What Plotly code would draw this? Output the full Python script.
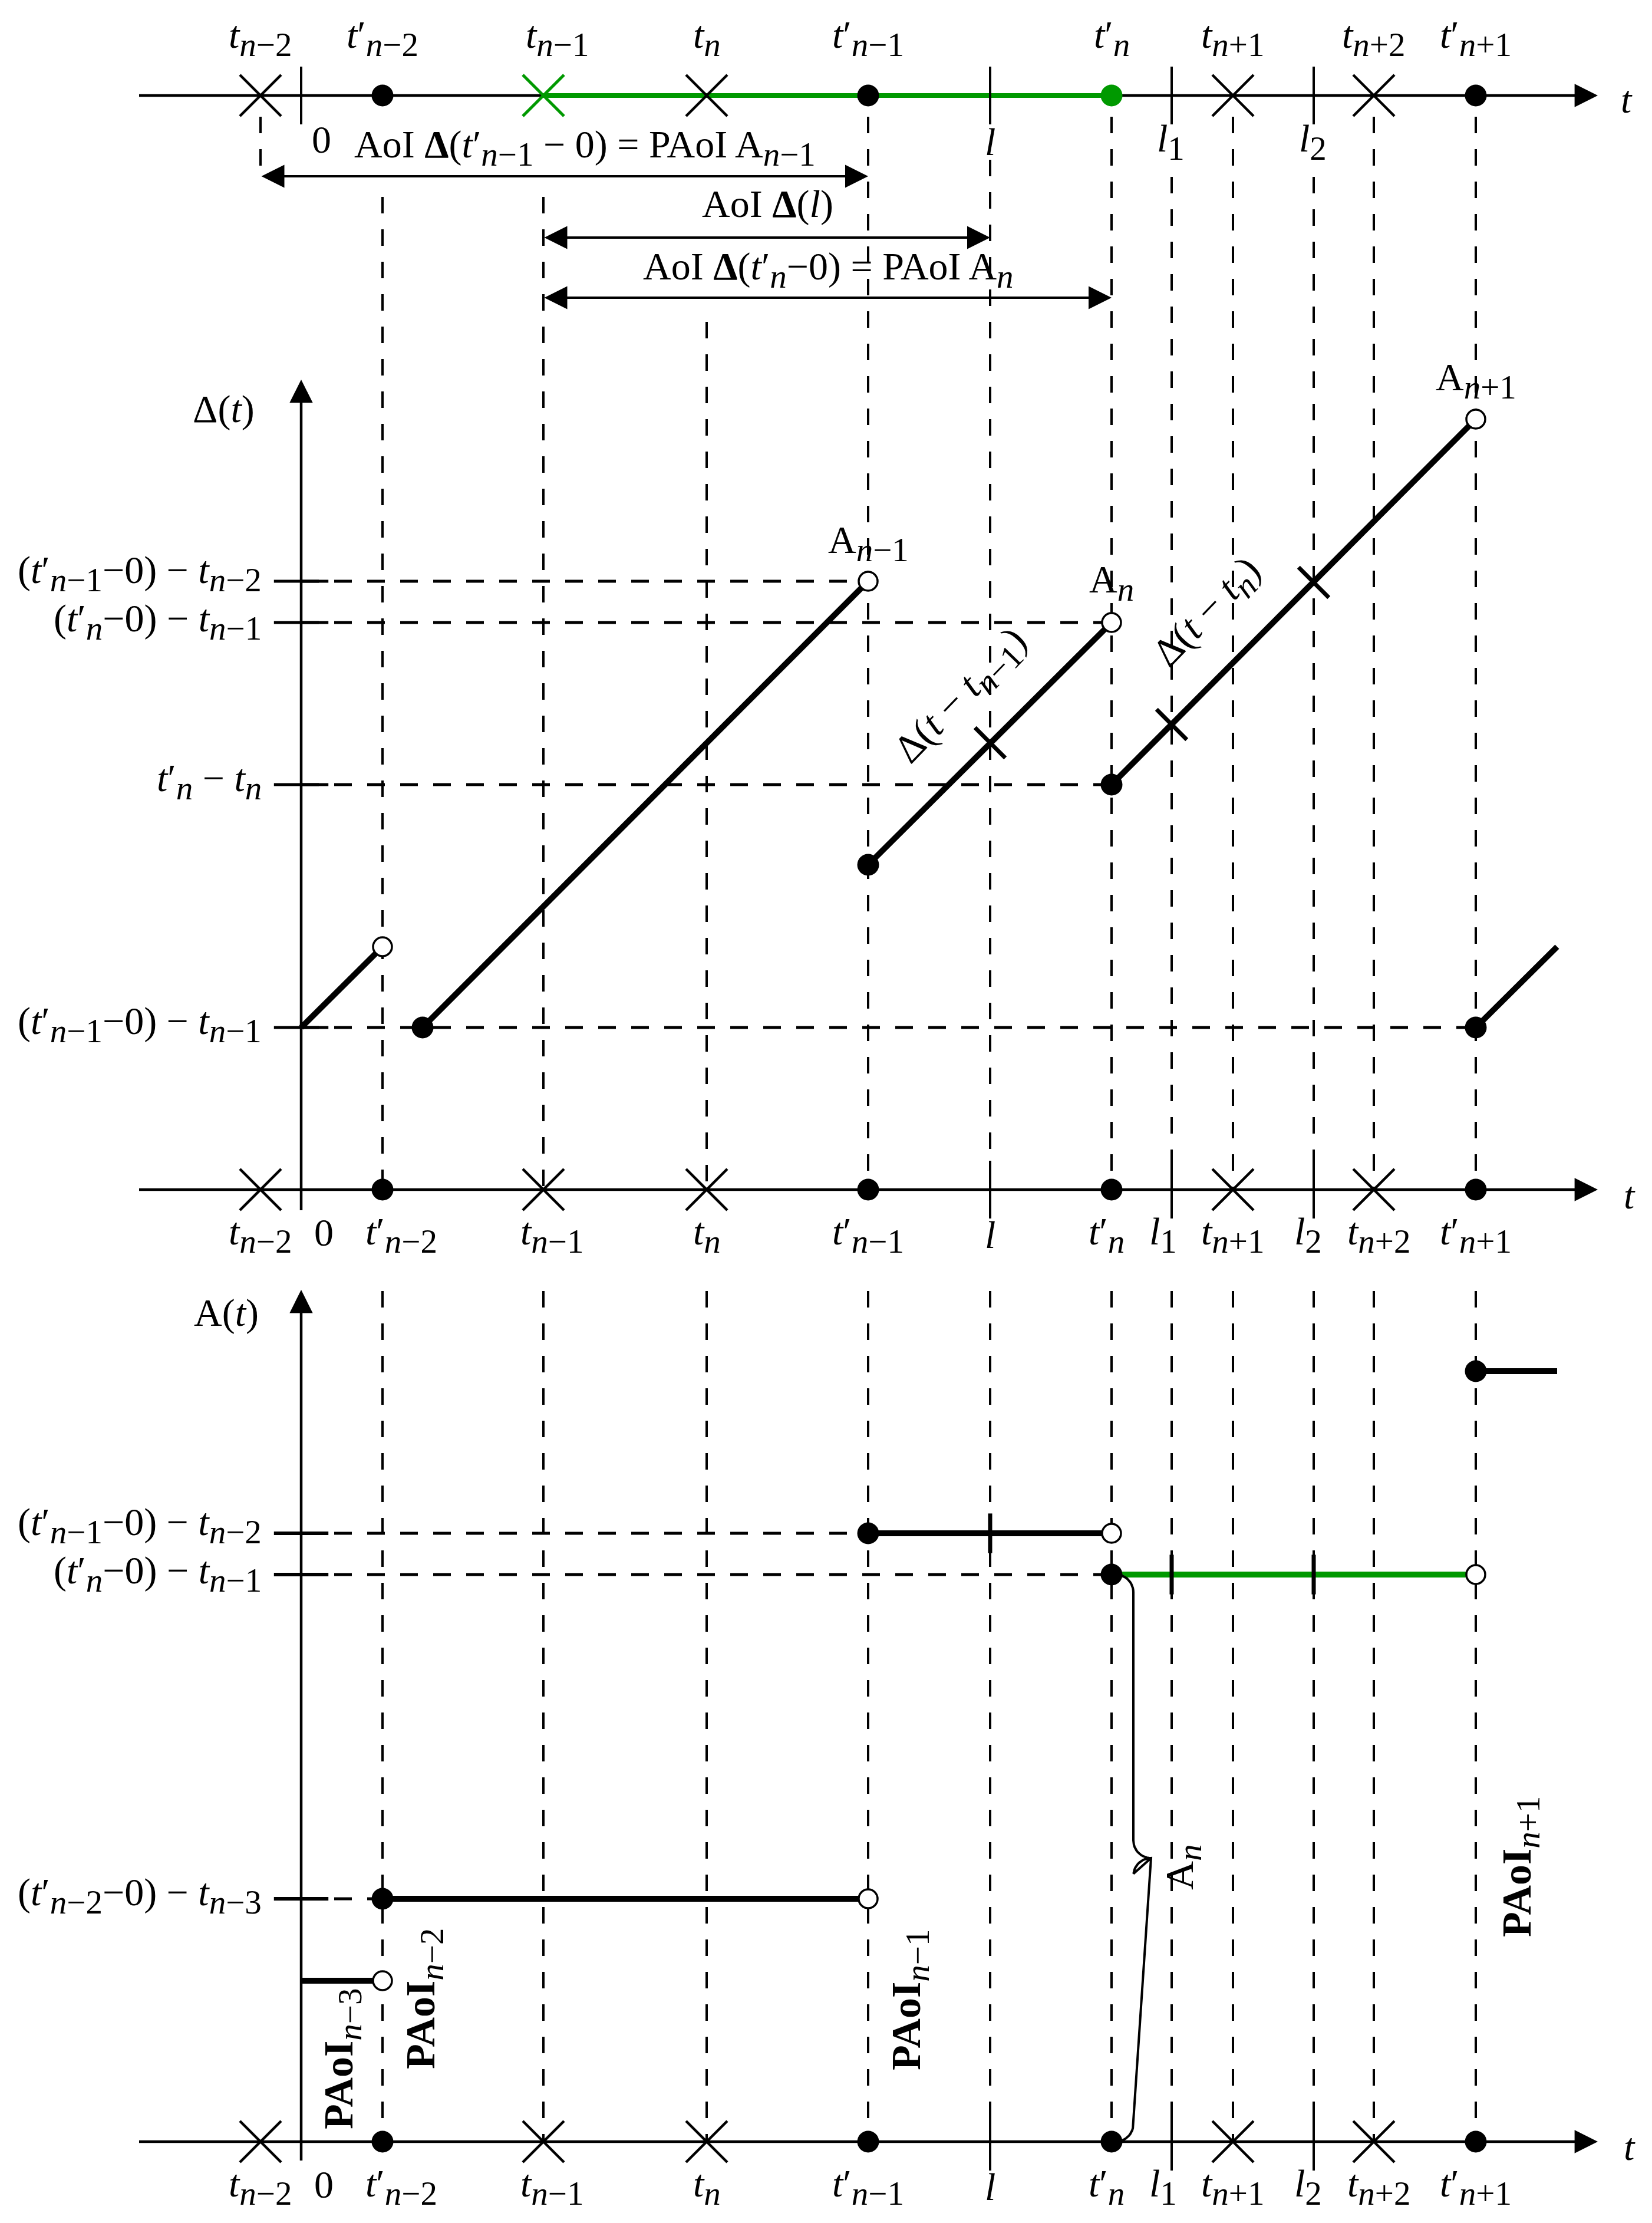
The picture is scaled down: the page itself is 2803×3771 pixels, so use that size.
import numpy as np
import plotly.graph_objects as go

# ---------------- data (diagram time units; value axes use the same unit) ----------------
# generation instants t_k (crosses) and reception instants t'_k (dots)
gen_subs = ["n−2", "n−1", "n", "n+1", "n+2"]
gen_times = [-6.9, 41.1, 68.8, 158.1, 182.0]
rcv_subs = ["n−2", "n−1", "n", "n+1"]
rcv_times = [13.8, 96.2, 137.5, 199.3]
# observation instants l, l1, l2
probe_subs = ["", "1", "2"]
probe_times = [116.9, 147.7, 171.8]

# AoI Δ(t): sawtooth pieces
aoi_t0 = [0.0, 20.6, 96.2, 137.5, 199.3]
aoi_t1 = [13.8, 96.2, 137.5, 199.3, 213.1]
aoi_v0 = [27.5, 27.5, 55.1, 68.7, 27.5]
aoi_v1 = [41.2, 103.2, 96.2, 130.7, 41.2]
# where l, l1, l2 cut the sawtooth
aoi_probe_v = [75.8, 78.9, 103.0]

# PAoI A(t): step pieces
paoi_t0 = [0.0, 13.8, 96.2, 137.5, 199.3]
paoi_t1 = [13.8, 96.2, 137.5, 199.3, 213.1]
paoi_v = [27.3, 41.2, 103.2, 96.2, 130.7]

# ---------------- page geometry ----------------
FONT = "Liberation Serif, Times New Roman, serif"
FS = 66
SUBFS = 57
GREEN = "#009900"
BODY = 8            # default html body margin
PAGE_W, PAGE_H = 2803, 3771
X_ZERO = 511        # page px of t = 0
UNIT = 10           # px per unit
TOP_Y = 162         # page px of the top time line
AOI_Y = 2018        # page px of Δ = 0
PAOI_Y = 3633       # page px of A = 0


def tx(px):
    return (px - X_ZERO) / UNIT


def sub(s):
    return f"<sub><span style='font-size:{SUBFS}px'>{s}</span></sub>"


def it_n(s):
    return s.replace("n", "<i>n</i>")


def t_lab(s):
    return "<i>t</i>" + sub(it_n(s))


def tp_lab(s):
    return "<i>t</i>′" + sub(it_n(s))


def l_lab(s):
    return "<i>l</i>" + (sub(s) if s else "")


def segs(x0s, x1s, y0s, y1s):
    xs, ys = [], []
    for a, b, c, d in zip(x0s, x1s, y0s, y1s):
        xs += [a, b, None]
        ys += [c, d, None]
    return xs, ys


fig = go.Figure()


def line(xs, ys, yaxis="y", color="black", width=4, dash=None):
    fig.add_trace(go.Scatter(x=xs, y=ys, yaxis=yaxis, mode="lines", hoverinfo="skip",
                             line=dict(color=color, width=width, dash=dash)))


def marks(xs, ys, yaxis="y", symbol="circle", size=36, color="black",
          lcolor="black", lwidth=0, angle=0):
    fig.add_trace(go.Scatter(x=xs, y=ys, yaxis=yaxis, mode="markers", hoverinfo="skip",
                             marker=dict(symbol=symbol, size=size, color=color, angle=angle,
                                         line=dict(color=lcolor, width=lwidth))))


def ann(text, x, y, yref="y", angle=0, xanchor="center", yanchor="middle",
        xshift=0, yshift=0, size=FS):
    fig.add_annotation(text=text, x=x, y=y, xref="x", yref=yref, showarrow=False,
                       font=dict(family=FONT, size=size, color="black"), textangle=angle,
                       xanchor=xanchor, yanchor=yanchor, xshift=xshift, yshift=yshift)


def arrow(x0, y0, x1, y1, yref="y", both=False, width=4, size=1.95):
    fig.add_annotation(x=x1, y=y1, ax=x0, ay=y0, xref="x", yref=yref, axref="x", ayref=yref,
                       text="", showarrow=True, arrowhead=2, arrowsize=size, arrowwidth=width,
                       arrowcolor="black", arrowside="end+start" if both else "end",
                       startarrowhead=2, startarrowsize=size, standoff=0, startstandoff=0)


DASH_V = "28px,27px"
DASH_H = "30px,26px"

# ---------------- vertical guide lines ----------------
top_start = {("g", 0): 198, ("g", 1): 334, ("g", 2): 546, ("g", 3): 198, ("g", 4): 198,
             ("r", 0): 334, ("r", 1): 198, ("r", 2): 198, ("r", 3): 198,
             ("p", 0): 271, ("p", 1): 300, ("p", 2): 300}
events = [("g", i, t) for i, t in enumerate(gen_times)] + \
         [("r", i, t) for i, t in enumerate(rcv_times)] + \
         [("p", i, t) for i, t in enumerate(probe_times)]
vx, vy = [], []
for kind, i, t in events:
    y0 = top_start[(kind, i)]
    y1 = 299 if (kind, i) == ("g", 0) else AOI_Y
    vx += [t, t, None]
    vy += [y0, y1, None]
    if (kind, i) != ("g", 0):
        vx += [t, t, None]
        vy += [2190, PAOI_Y, None]
line(vx, vy, width=4, dash=DASH_V)

# ---------------- horizontal guide lines ----------------
aoi_levels = [aoi_v1[1], aoi_v1[2], aoi_v0[3], aoi_v0[0]]
aoi_level_end = [aoi_t1[1], aoi_t1[2], aoi_t0[3], aoi_t0[4]]
aoi_level_text = [
    "(" + tp_lab("n−1") + "−0) − " + t_lab("n−2"),
    "(" + tp_lab("n") + "−0) − " + t_lab("n−1"),
    tp_lab("n") + " − " + t_lab("n"),
    "(" + tp_lab("n−1") + "−0) − " + t_lab("n−1"),
]
aoi_level_shift = [14, 2, 6, 6]
hx, hy = segs([0] * 4, aoi_level_end, aoi_levels, aoi_levels)
line(hx, hy, yaxis="y2", width=5, dash=DASH_H)

paoi_levels = [paoi_v[2], paoi_v[3], paoi_v[1]]
paoi_level_end = [paoi_t1[2], paoi_t1[3], paoi_t0[1]]
paoi_level_text = [
    "(" + tp_lab("n−1") + "−0) − " + t_lab("n−2"),
    "(" + tp_lab("n") + "−0) − " + t_lab("n−1"),
    "(" + tp_lab("n−2") + "−0) − " + t_lab("n−3"),
]
paoi_level_shift = [14, 2, 6]
hx, hy = segs([0] * 3, paoi_level_end, paoi_levels, paoi_levels)
line(hx, hy, yaxis="y3", width=5, dash=DASH_H)

# y-axis tick stubs
marks([0] * 4, aoi_levels, yaxis="y2", symbol="line-ew", size=66, lwidth=5)
marks([0] * 3, paoi_levels, yaxis="y3", symbol="line-ew", size=66, lwidth=6)

# ---------------- time axes ----------------
AX_START, AX_END = tx(236), tx(2711)


def time_axis(yaxis, y, top=False):
    line([AX_START, AX_END - 2], [y, y], yaxis=yaxis, width=4.5)
    if top:
        line([gen_times[1], rcv_times[2]], [y, y], yaxis=yaxis, color=GREEN, width=8)
    arrow(AX_END - 3, y, AX_END, y, yref=yaxis, width=4.5, size=1.75)
    gcol = [GREEN if (top and i == 1) else "black" for i in range(len(gen_times))]
    rcol = [GREEN if (top and i == 2) else "black" for i in range(len(rcv_times))]
    ticks = probe_times + ([0.0] if top else [])
    marks(ticks, [y] * len(ticks), yaxis=yaxis, symbol="line-ns", size=70, lwidth=4)
    for t, c in zip(gen_times, gcol):
        marks([t], [y], yaxis=yaxis, symbol="x-thin", size=70, lcolor=c,
              lwidth=5 if c == GREEN else 4.5)
    marks(rcv_times, [y] * len(rcv_times), yaxis=yaxis, size=37, color=rcol)


time_axis("y", TOP_Y, top=True)
time_axis("y2", 0)
time_axis("y3", 0)

# value axes (vertical, with arrow)
line([0, 0], [-3.5, 135], yaxis="y2", width=4.5)
arrow(0, 134, 0, 137.4, yref="y2", width=4.5, size=1.75)
line([0, 0], [-3.2, 142], yaxis="y3", width=4.5)
arrow(0, 141, 0, 144.5, yref="y3", width=4.5, size=1.75)

# ---------------- Δ(t) sawtooth ----------------
sx, sy = segs(aoi_t0, aoi_t1, aoi_v0, aoi_v1)
line(sx, sy, yaxis="y2", width=10)
marks(probe_times, aoi_probe_v, yaxis="y2", symbol="line-ns", size=52, lwidth=7, angle=-45)
marks(aoi_t0[1:], aoi_v0[1:], yaxis="y2", size=37)
marks(aoi_t1[:-1], aoi_v1[:-1], yaxis="y2", size=32, color="white", lwidth=3.5)

# ---------------- A(t) steps ----------------
for i in range(len(paoi_v)):
    line([paoi_t0[i], paoi_t1[i]], [paoi_v[i], paoi_v[i]], yaxis="y3",
         color=GREEN if i == 3 else "black", width=10)
probe_level = [paoi_v[2], paoi_v[3], paoi_v[3]]
marks(probe_times, probe_level, yaxis="y3", symbol="line-ns", size=48, lwidth=7)
marks(paoi_t0[1:], paoi_v[1:], yaxis="y3", size=37)
marks(paoi_t1[:-1], paoi_v[:-1], yaxis="y3", size=32, color="white", lwidth=3.5)

# curly brace spanning A_n at t'_n
bx0 = rcv_times[2] + 3.7
btop, bbot = paoi_v[3], 0.0
bmid = (btop + bbot) / 2
r = 3.0
th = np.linspace(0, np.pi / 2, 14)
brace_x = list(bx0 - r + r * np.sin(th)) + \
    list(bx0 + r - r * np.cos(th)) + list(bx0 + r - r * np.sin(th[::-1]))[1:] + \
    list(bx0 - r + r * np.cos(th))
brace_y = list(btop - r + r * np.cos(th)) + \
    list(bmid + r - r * np.sin(th)) + list(bmid - r + r * np.cos(th[::-1]))[1:] + \
    list(bbot + r - r * np.sin(th))
line(brace_x, brace_y, yaxis="y3", width=4)

# ---------------- top panel: labels and interval arrows ----------------
top_shift_g = [0, 24, 0, 0, 0]
for s, t, dx in zip(gen_subs, gen_times, top_shift_g):
    ann(t_lab(s), t, 64, xshift=dx)
for s, t in zip(rcv_subs, rcv_times):
    ann(tp_lab(s), t, 64)
ann("0", 0, 236, xshift=34)
for s, t in zip(probe_subs, probe_times):
    ann(l_lab(s), t, 240, xshift=0 if not s else -2)
ann("<i>t</i>", tx(2760), 168)

arrow(gen_times[0], 299, rcv_times[1], 299, both=True)
arrow(gen_times[1], 403, probe_times[0], 403, both=True)
arrow(gen_times[1], 505, rcv_times[2], 505, both=True)
ann("AoI <b>Δ</b>(" + tp_lab("n−1") + " − 0) = PAoI A" + sub(it_n("n−1")), tx(992), 250)
ann("AoI <b>Δ</b>(<i>l</i>)", tx(1302), 346)
ann("AoI <b>Δ</b>(" + tp_lab("n") + "−0) = PAoI A" + sub(it_n("n")), tx(1405), 457)

# ---------------- Δ panel labels ----------------
ann("Δ(<i>t</i>)", tx(379), 694)
for v, txt, dy in zip(aoi_levels, aoi_level_text, aoi_level_shift):
    ann(txt, tx(446), v, yref="y2", xanchor="right", yshift=dy)
ann("A" + sub(it_n("n−1")), aoi_t1[1], 921)
ann("A" + sub(it_n("n")), aoi_t1[2], 988)
ann("A" + sub(it_n("n+1")), aoi_t1[3], 645)
ann("Δ(<i>t</i> − " + t_lab("n−1") + ")", tx(1632), 1182, angle=-46, size=68)
ann("Δ(<i>t</i> − " + t_lab("n") + ")", tx(2050), 1040, angle=-46, size=68)

bot_shift_g = [0, 15, 0, 0, 9]
bot_shift_r = [32, 0, -9, 0]
bot_shift_p = [0, -15, -10]
for ybase in (2094, 3709):
    for s, t, dx in zip(gen_subs, gen_times, bot_shift_g):
        ann(t_lab(s), t, ybase, xshift=dx)
    for s, t, dx in zip(rcv_subs, rcv_times, bot_shift_r):
        ann(tp_lab(s), t, ybase, xshift=dx)
    for s, t, dx in zip(probe_subs, probe_times, bot_shift_p):
        ann(l_lab(s), t, ybase, xshift=dx)
    ann("0", 0, ybase - 4, xshift=38)
ann("<i>t</i>", tx(2765), 2027)
ann("<i>t</i>", tx(2765), 3641)

# ---------------- A panel labels ----------------
ann("A(<i>t</i>)", tx(384), 2227)
for v, txt, dy in zip(paoi_levels, paoi_level_text, paoi_level_shift):
    ann(txt, tx(446), v, yref="y3", xanchor="right", yshift=dy)
PFS = 70
ann("<b>PAoI</b>" + sub(it_n("n−3")), tx(580), 3492, angle=-90, size=PFS)
ann("<b>PAoI</b>" + sub(it_n("n−2")), tx(719), 3390, angle=-90, size=PFS)
ann("<b>PAoI</b>" + sub(it_n("n−1")), tx(1543), 3392, angle=-90, size=PFS)
ann("<b>PAoI</b>" + sub(it_n("n+1")), tx(2579), 3166, angle=-90, size=PFS)
ann("A" + sub(it_n("n")), tx(2006), 3167, angle=-90, size=68)

fig.update_layout(
    width=PAGE_W - BODY, height=PAGE_H - BODY,
    margin=dict(l=0, r=0, t=0, b=0),
    paper_bgcolor="white", plot_bgcolor="white", showlegend=False,
    xaxis=dict(range=[tx(BODY), tx(PAGE_W)], visible=False),
    yaxis=dict(range=[PAGE_H, BODY], visible=False),
    yaxis2=dict(range=[(AOI_Y - PAGE_H) / UNIT, (AOI_Y - BODY) / UNIT],
                overlaying="y", visible=False),
    yaxis3=dict(range=[(PAOI_Y - PAGE_H) / UNIT, (PAOI_Y - BODY) / UNIT],
                overlaying="y", visible=False),
)

fig.write_html("out.html")
